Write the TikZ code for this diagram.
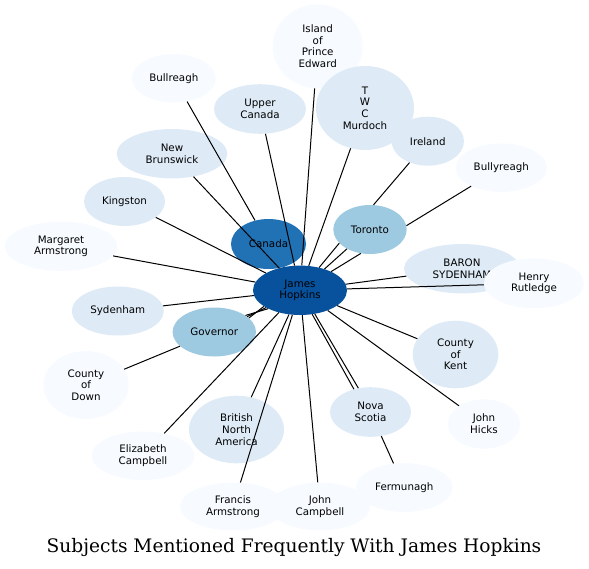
\documentclass[tikz,border=0pt]{standalone}
\usepackage{fontspec}
\newfontfamily\dejavu{DejaVu Sans}
\newfontfamily\dejavuserif{DejaVu Serif}
\usetikzlibrary{shapes.geometric}
\definecolor{bA}{HTML}{F7FBFF}
\definecolor{bB}{HTML}{DEEBF7}
\definecolor{bC}{HTML}{9ECAE1}
\definecolor{bD}{HTML}{2171B5}
\definecolor{bE}{HTML}{08519C}
\begin{document}
\begin{tikzpicture}[x=1pt,y=-1pt,
  nd/.style={ellipse, inner sep=0pt, align=center, draw=none, text=black,
    font=\dejavu\fontsize{10.3}{11.7}\selectfont},
  sz/.style 2 args={minimum width=#1pt, minimum height=#2pt},
  edge/.style={draw=black, line width=1pt}]
\useasboundingbox (0,0) rectangle (589,568);
\node[nd, fill=bA, sz={90}{84}] (isl) at (317.7,46.3) {Island\\of\\Prince\\Edward};
\node[nd, fill=bA, sz={84}{48.6}] (bull) at (173.8,78.3) {Bullreagh};
\node[nd, fill=bB, sz={92}{49.6}] (upc) at (260,109) {Upper\\Canada};
\node[nd, fill=bB, sz={98}{84}] (twc) at (365,108) {T\\W\\C\\Murdoch};
\node[nd, fill=bB, sz={72.4}{49}] (ire) at (427.8,141.2) {Ireland};
\node[nd, fill=bA, sz={91.4}{48.6}] (bully) at (501.3,167.7) {Bullyreagh};
\node[nd, fill=bB, sz={110.6}{49.4}] (nb) at (172,153.7) {New\\Brunswick};
\node[nd, fill=bB, sz={81}{49}] (king) at (124.5,201.5) {Kingston};
\node[nd, fill=bD, sz={75}{50}] (can) at (268.5,244) {Canada};
\node[nd, fill=bC, sz={73.4}{49}] (tor) at (370,229.5) {Toronto};
\node[nd, fill=bA, sz={112.6}{49.4}] (marg) at (61,246.3) {Margaret\\Armstrong};
\node[nd, fill=bB, sz={116}{49.4}] (baron) at (462,268.7) {BARON\\SYDENHAM};
\node[nd, fill=bA, sz={100}{50}] (henry) at (534,283.3) {Henry\\Rutledge};
\node[nd, fill=bE, sz={94}{49.4}] (jh) at (300,290.3) {James\\Hopkins};
\node[nd, fill=bB, sz={92}{49}] (syd) at (117.8,311) {Sydenham};
\node[nd, fill=bC, sz={83.4}{49}] (gov) at (214.3,332) {Governor};
\node[nd, fill=bB, sz={85.6}{67.6}] (kent) at (455.5,354.5) {County\\of\\Kent};
\node[nd, fill=bA, sz={85.4}{68}] (down) at (86,385) {County\\of\\Down};
\node[nd, fill=bB, sz={81}{49.6}] (ns) at (370.5,412) {Nova\\Scotia};
\node[nd, fill=bA, sz={72.6}{49.6}] (hicks) at (484,424) {John\\Hicks};
\node[nd, fill=bB, sz={95}{67.6}] (bna) at (236.5,429.5) {British\\North\\America};
\node[nd, fill=bA, sz={103}{48.6}] (eliz) at (143,455.7) {Elizabeth\\Campbell};
\node[nd, fill=bA, sz={96.6}{49}] (ferm) at (404.3,487.5) {Fermunagh};
\node[nd, fill=bA, sz={106}{48}] (fa) at (233,506.5) {Francis\\Armstrong};
\node[nd, fill=bA, sz={100.6}{48}] (jc) at (320,506.5) {John\\Campbell};
% connectors
\draw[edge] (bull) -- (can);
\draw[edge] (ire) -- (tor.82);
\draw[edge] (bully) -- (tor.6);
\draw[edge] (down) -- (gov);
\draw[edge] (ferm) -- (ns);
\draw[edge] (isl) -- (jh);
\draw[edge] (upc) -- (jh);
\draw[edge] (twc) -- (jh);
\draw[edge] (nb) -- (jh);
\draw[edge] (king) -- (jh);
\draw[edge] (can) -- (jh);
\draw[edge] (marg) -- (jh);
\draw[edge] (baron) -- (jh);
\draw[edge] (henry) -- (jh);
\draw[edge] (syd) -- (jh);
\draw[edge] (kent) -- (jh);
\draw[edge] (hicks) -- (jh);
\draw[edge] (bna) -- (jh);
\draw[edge] (eliz) -- (jh);
\draw[edge] (fa) -- (jh);
\draw[edge] (jc) -- (jh);
\draw[edge] (tor.204) -- (jh.50);
\draw[edge] (tor.220) -- (jh.41);
\draw[edge] (tor.249) -- (jh.31);
\draw[edge] (gov.22) -- (jh.204);
\draw[edge] (gov.25) -- (jh.207);
\draw[edge] (gov.28) -- (jh.210);
\draw[edge] (jh.297) -- (ns.126);
\draw[edge] (jh.302) -- (ns.117.5);
\node[anchor=base, inner sep=0pt, font=\dejavuserif\fontsize{18.6}{21}\selectfont] (title) at (294,552) {Subjects Mentioned Frequently With James Hopkins};
\end{tikzpicture}
\end{document}
